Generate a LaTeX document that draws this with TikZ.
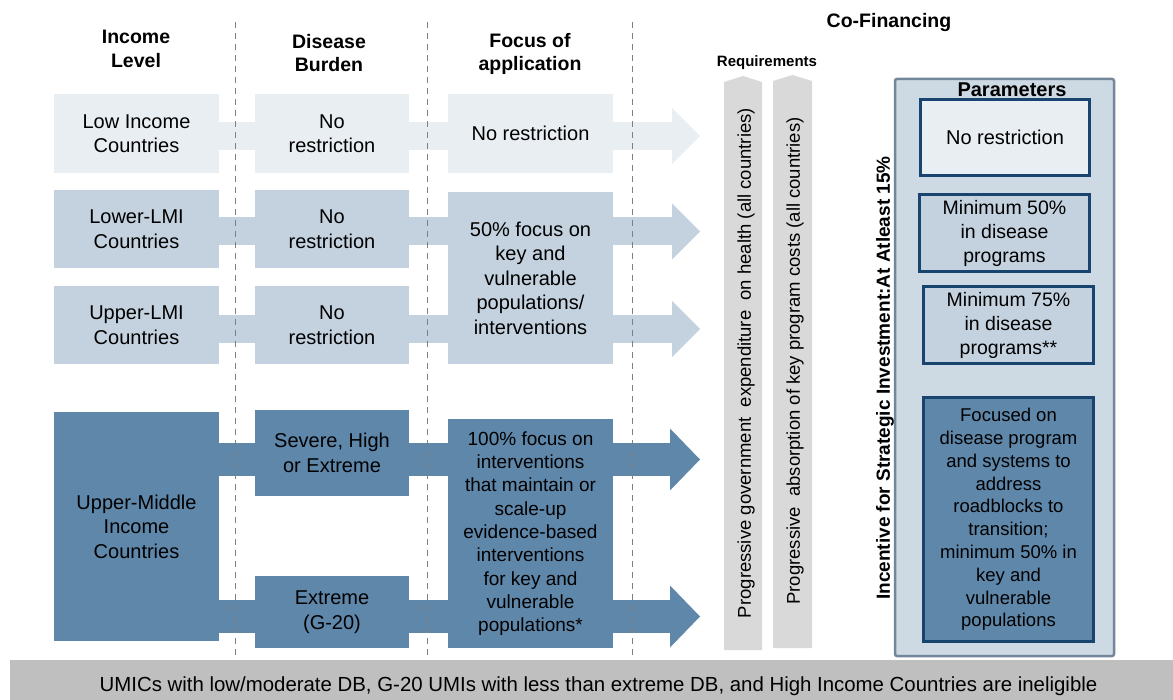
\documentclass[tikz,border=0pt]{standalone}
\usepackage{fontspec}
\setmainfont{Liberation Sans}
\usetikzlibrary{arrows.meta,backgrounds}

\definecolor{rowlight}{HTML}{E9EEF3}
\definecolor{rowmid}{HTML}{C4D2DF}
\definecolor{rowdark}{HTML}{5F87AA}
\definecolor{reqgray}{HTML}{D9D9D9}
\definecolor{footgray}{HTML}{BFBFBF}
\definecolor{parfill}{HTML}{CDD9E3}
\definecolor{parline}{HTML}{73879A}
\definecolor{pbline}{HTML}{18446F}
\definecolor{sepgray}{HTML}{7F7F7F}

\newcommand\fz[2]{\fontsize{#1}{#2}\selectfont}

\begin{document}
\begin{tikzpicture}[x=1pt,y=1pt]

    \tikzstyle{cell}=[rectangle,inner sep=0pt,align=center,font=\fz{20}{24.5}]
    \tikzstyle{colhead}=[align=center,inner sep=0pt,font=\bfseries\fz{19.5}{23.5}]
    \tikzstyle{rowband}=[line width=28pt,-{Triangle[length=28pt,width=56pt,line width=0pt]}]
    \tikzstyle{wideband}=[line width=33pt,-{Triangle[length=30pt,width=62pt,line width=0pt]}]
    \tikzstyle{colsep}=[sepgray,line width=0.9pt,dash pattern=on 6pt off 5pt]
    \tikzstyle{reqtext}=[rotate=90,inner sep=0pt,font=\fz{18.5}{22}]
    \tikzstyle{pbox}=[draw=pbline,line width=3pt,inner sep=0pt,align=center,font=\fz{19.5}{24}]

    \useasboundingbox (0,0) rectangle (1173,-700);

    % headings
    \node[colhead] (hinc) at (136,-49) {Income\\Level};
    \node[colhead] (hdis) at (329,-53) {Disease\\Burden};
    \node[colhead] (hfoc) at (530,-54) {Focus of\\application};
    \node[colhead] (hcof) at (889,-23) {Co-Financing};
    \node[colhead,font=\bfseries\fz{15}{18}] (hreq) at (767,-63) {Requirements};

    % income level
    \node[cell,fill=rowlight,minimum width=165pt,minimum height=79pt]  (low)  at (136.5,-133.5) {Low Income\\Countries};
    \node[cell,fill=rowmid,minimum width=165pt,minimum height=78pt]    (lmi)  at (136.5,-229)   {Lower-LMI\\Countries};
    \node[cell,fill=rowmid,minimum width=165pt,minimum height=78pt]    (umi)  at (136.5,-325)   {Upper-LMI\\Countries};
    \node[cell,fill=rowdark,minimum width=165pt,minimum height=229pt]  (umic) at (136.5,-526.5) {Upper-Middle\\Income\\Countries};

    % disease burden
    \node[cell,fill=rowlight,minimum width=154pt,minimum height=79pt]  (db1) at (332,-133.5) {No\\restriction};
    \node[cell,fill=rowmid,minimum width=154pt,minimum height=78pt]    (db2) at (332,-229)   {No\\restriction};
    \node[cell,fill=rowmid,minimum width=154pt,minimum height=78pt]    (db3) at (332,-325)   {No\\restriction};
    \node[cell,fill=rowdark,minimum width=154pt,minimum height=86pt]   (db4) at (332,-453)   {Severe, High\\or Extreme};
    \node[cell,fill=rowdark,minimum width=154pt,minimum height=72pt]   (db5) at (332,-612)   {Extreme\\(G-20)};

    % focus of application
    \node[cell,fill=rowlight,minimum width=165pt,minimum height=79pt]  (fa1) at (530.5,-133.5) {No restriction};
    \node[cell,fill=rowmid,minimum width=165pt,minimum height=172pt]   (fa2) at (530.5,-278)   {50\% focus on\\key and\\vulnerable\\populations/\\interventions};
    \node[cell,fill=rowdark,minimum width=165pt,minimum height=229pt,font=\fz{19}{23.3}] (fa3) at (530.5,-533.5)
        {100\% focus on\\interventions\\that maintain or\\scale-up\\evidence-based\\interventions\\for key and\\vulnerable\\populations*};

    % arrows into co-financing
    \coordinate (t1) at (700,-136);
    \coordinate (t2) at (700,-231.5);
    \coordinate (t3) at (700,-329);
    \coordinate (t4) at (700,-459.5);
    \coordinate (t5) at (700,-616.5);
    \begin{scope}[on background layer]
      \draw[rowband,rowlight] (low.center |- t1)  -- (t1);
      \draw[rowband,rowmid]   (lmi.center |- t2)  -- (t2);
      \draw[rowband,rowmid]   (umi.center |- t3)  -- (t3);
      \draw[wideband,rowdark] (umic.center |- t4) -- (t4);
      \draw[wideband,rowdark] (umic.center |- t5) -- (t5);
    \end{scope}

    \foreach \x in {235,427,632}
      \draw[colsep] (\x,-22) -- (\x,-655);

    % requirements
    \fill[reqgray] (724,-650) -- (724,-82) -- (743,-76) -- (762,-82) -- (762,-650) -- cycle;
    \fill[reqgray] (773,-648) -- (773,-81) -- (792.5,-75) -- (812,-81) -- (812,-648) -- cycle;
    \node[reqtext] (req1) at (746,-363) {Progressive government~ expenditure~ on health (all countries)};
    \node[reqtext] (req2) at (795,-361) {Progressive~ absorption of key program costs (all countries)};

    % parameters
    \node[draw=parline,fill=parfill,line width=2.5pt,rounded corners=2pt,minimum width=219pt,minimum height=577pt] (par) at (1004.5,-367.5) {};
    \node[pbox,fill=rowlight,minimum width=169pt,minimum height=76pt,font=\fz{20}{24}] (pb1) at (1005,-137.5) {No restriction};
    \node[pbox,fill=rowmid,minimum width=170pt,minimum height=77pt]  (pb2) at (1004.5,-233) {Minimum 50\%\\in disease\\programs};
    \node[pbox,fill=rowmid,minimum width=170pt,minimum height=77pt]  (pb3) at (1008.5,-325) {Minimum 75\%\\in disease\\programs**};
    \node[pbox,fill=rowdark,minimum width=170pt,minimum height=244pt,font=\fz{18.5}{22.8}] (pb4) at (1008.5,-519.5)
        {Focused on\\disease program\\and systems to\\address\\roadblocks to\\transition;\\minimum 50\% in\\key and\\vulnerable\\populations};
    \node[inner sep=0pt,font=\bfseries\fz{20}{24}] (partit) at (1012,-90) {Parameters};
    \node[rotate=90,inner sep=0pt,font=\bfseries\fz{19}{23}] (incent) at (885,-378) {Incentive for Strategic Investment:At Atleast 15\%};

    % footer
    \node[fill=footgray,minimum width=1177pt,minimum height=52pt,inner sep=0pt,font=\fz{20.4}{24}] (foot) at (598.5,-686)
        {UMICs with low/moderate DB, G-20 UMIs with less than extreme DB, and High Income Countries are ineligible};

\end{tikzpicture}
\end{document}
